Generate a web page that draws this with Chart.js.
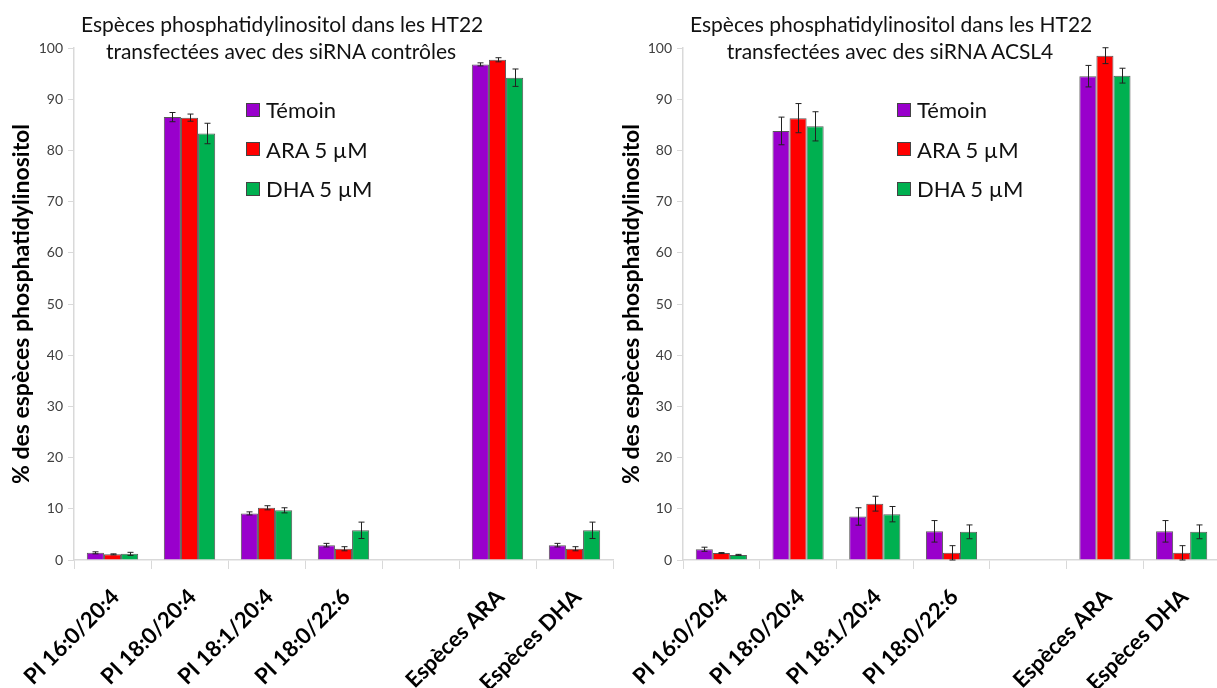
<!DOCTYPE html>
<html>
<head>
<meta charset="utf-8">
<script src="https://cdn.jsdelivr.net/npm/chart.js@4"></script>
<style>
  body { margin: 0; background: #fff; width: 1217px; height: 688px; overflow: hidden; position: relative; font-family: Lato, "Open Sans", sans-serif; }
  .panel { position: absolute; top: 0; height: 688px; }
  .title { position: absolute; top: 10px; font-size: 21px; line-height: 27px; color: #111; text-align: center; white-space: nowrap; }
  .legend { position: absolute; font-size: 22px; color: #111; }
  .legend div { height: 39.5px; display: flex; align-items: center; }
  .legend span.box { display: inline-block; width: 12px; height: 12px; border: 1px solid #444; margin-right: 6px; }
</style>
</head>
<body>
<div class="panel" style="left:0; width:620px;"><canvas id="ctrlChart" width="620" height="688"></canvas></div>
<div class="panel" style="left:600px; width:640px;"><canvas id="acslChart" width="640" height="688"></canvas></div>
<div class="title" style="left:81px; width:400px;">Espèces phosphatidylinositol dans les HT22<br>transfectées avec des siRNA contrôles</div>
<div class="title" style="left:690px; width:400px;">Espèces phosphatidylinositol dans les HT22<br>transfectées avec des siRNA ACSL4</div>
<div class="legend" id="legendCtrl" style="left:246px; top:90px;"></div>
<div class="legend" id="legendAcsl" style="left:897px; top:90px;"></div>
<script>
// Données
const categories = ['PI 16:0/20:4', 'PI 18:0/20:4', 'PI 18:1/20:4', 'PI 18:0/22:6', '', 'Espèces ARA', 'Espèces DHA'];
const seriesNames = ['Témoin', 'ARA 5 µM', 'DHA 5 µM'];
const seriesColors = ['#9900CC', '#FF0000', '#00B050'];
const yTicks = [0, 10, 20, 30, 40, 50, 60, 70, 80, 90, 100];

// siRNA contrôles
const ctrlTemoin = [1.4, 86.5, 9.1, 2.9, null, 96.8, 2.9];
const ctrlAra    = [1.1, 86.4, 10.2, 2.2, null, 97.7, 2.2];
const ctrlDha    = [1.2, 83.3, 9.7, 5.8, null, 94.2, 5.8];
const ctrlTemoinErr = [0.2, 0.9, 0.3, 0.35, null, 0.3, 0.35];
const ctrlAraErr    = [0.1, 0.7, 0.4, 0.4, null, 0.4, 0.4];
const ctrlDhaErr    = [0.3, 2.0, 0.5, 1.6, null, 1.7, 1.6];

// siRNA ACSL4
const acslTemoin = [2.1, 83.8, 8.5, 5.6, null, 94.5, 5.6];
const acslAra    = [1.35, 86.3, 11.0, 1.4, null, 98.5, 1.4];
const acslDha    = [1.0, 84.7, 8.95, 5.5, null, 94.6, 5.5];
const acslTemoinErr = [0.4, 2.7, 1.7, 2.1, null, 2.1, 2.1];
const acslAraErr    = [0.1, 2.85, 1.45, 1.4, null, 1.55, 1.4];
const acslDhaErr    = [0.1, 2.85, 1.5, 1.35, null, 1.45, 1.35];

const errorBarsPlugin = {
    id: 'errorBars',
    afterDatasetsDraw(chart) {
        const ctx = chart.ctx;
        const yScale = chart.scales.y;
        ctx.save();
        ctx.strokeStyle = '#222';
        ctx.lineWidth = 1;
        chart.data.datasets.forEach((ds, i) => {
            const meta = chart.getDatasetMeta(i);
            meta.data.forEach((bar, j) => {
                const v = ds.data[j];
                const e = ds.errors[j];
                if (v == null || e == null) return;
                const x = Math.round(bar.x) + 0.5;
                const top = yScale.getPixelForValue(v + e);
                const bot = yScale.getPixelForValue(v - e);
                ctx.beginPath();
                ctx.moveTo(x, top); ctx.lineTo(x, bot);
                ctx.moveTo(x - 3, top); ctx.lineTo(x + 3, top);
                ctx.moveTo(x - 3, bot); ctx.lineTo(x + 3, bot);
                ctx.stroke();
            });
        });
        ctx.restore();
    }
};

function makeChart(canvasId, values, errors, rightPad, yAxisWidth, titlePad) {
    const ctx = document.getElementById(canvasId).getContext('2d');
    return new Chart(ctx, {
        type: 'bar',
        data: {
            labels: categories,
            datasets: seriesNames.map((name, i) => ({
                label: name,
                data: values[i],
                errors: errors[i],
                backgroundColor: seriesColors[i],
                borderColor: 'rgba(60, 60, 60, 0.85)',
                borderWidth: 1,
                barPercentage: 1,
                categoryPercentage: 0.667
            }))
        },
        options: {
            responsive: false,
            animation: false,
            layout: { padding: { left: 0, top: 48, right: rightPad, bottom: 0 } },
            plugins: {
                legend: { display: false },
                title: { display: false },
                tooltip: { enabled: false }
            },
            scales: {
                x: {
                    afterFit: s => { s.height = 128; },
                    grid: { drawOnChartArea: false, drawTicks: true, tickLength: 9, color: '#d9d9d9', offset: true },
                    border: { color: '#d9d9d9', width: 1.5 },
                    ticks: {
                        maxRotation: 45, minRotation: 45, autoSkip: false, padding: 15,
                        labelOffset: 3,
                        color: '#000',
                        font: { family: 'Lato', size: 22, weight: 'bold' }
                    }
                },
                y: {
                    min: 0, max: 100,
                    afterFit: s => { s.width = yAxisWidth; },
                    afterBuildTicks: s => { s.ticks = yTicks.map(v => ({ value: v })); },
                    grid: { drawOnChartArea: false, drawTicks: true, tickLength: 6, color: '#d9d9d9' },
                    border: { color: '#d9d9d9', width: 1.5 },
                    ticks: {
                        padding: 5, color: '#404040',
                        font: { family: 'Lato', size: 14 }
                    },
                    title: {
                        display: true,
                        text: '% des espèces phosphatidylinositol',
                        color: '#000',
                        padding: { top: titlePad, bottom: 0 },
                        font: { family: 'Lato', size: 23, weight: 'bold' }
                    }
                }
            }
        },
        plugins: [errorBarsPlugin]
    });
}

makeChart('ctrlChart', [ctrlTemoin, ctrlAra, ctrlDha], [ctrlTemoinErr, ctrlAraErr, ctrlDhaErr], 7, 74, 8);
makeChart('acslChart', [acslTemoin, acslAra, acslDha], [acslTemoinErr, acslAraErr, acslDhaErr], 20, 83, 18);

// Légendes
['legendCtrl', 'legendAcsl'].forEach(id => {
    const el = document.getElementById(id);
    seriesNames.forEach((name, i) => {
        const row = document.createElement('div');
        const box = document.createElement('span');
        box.className = 'box';
        box.style.background = seriesColors[i];
        row.appendChild(box);
        row.appendChild(document.createTextNode(name));
        el.appendChild(row);
    });
});
</script>
</body>
</html>
